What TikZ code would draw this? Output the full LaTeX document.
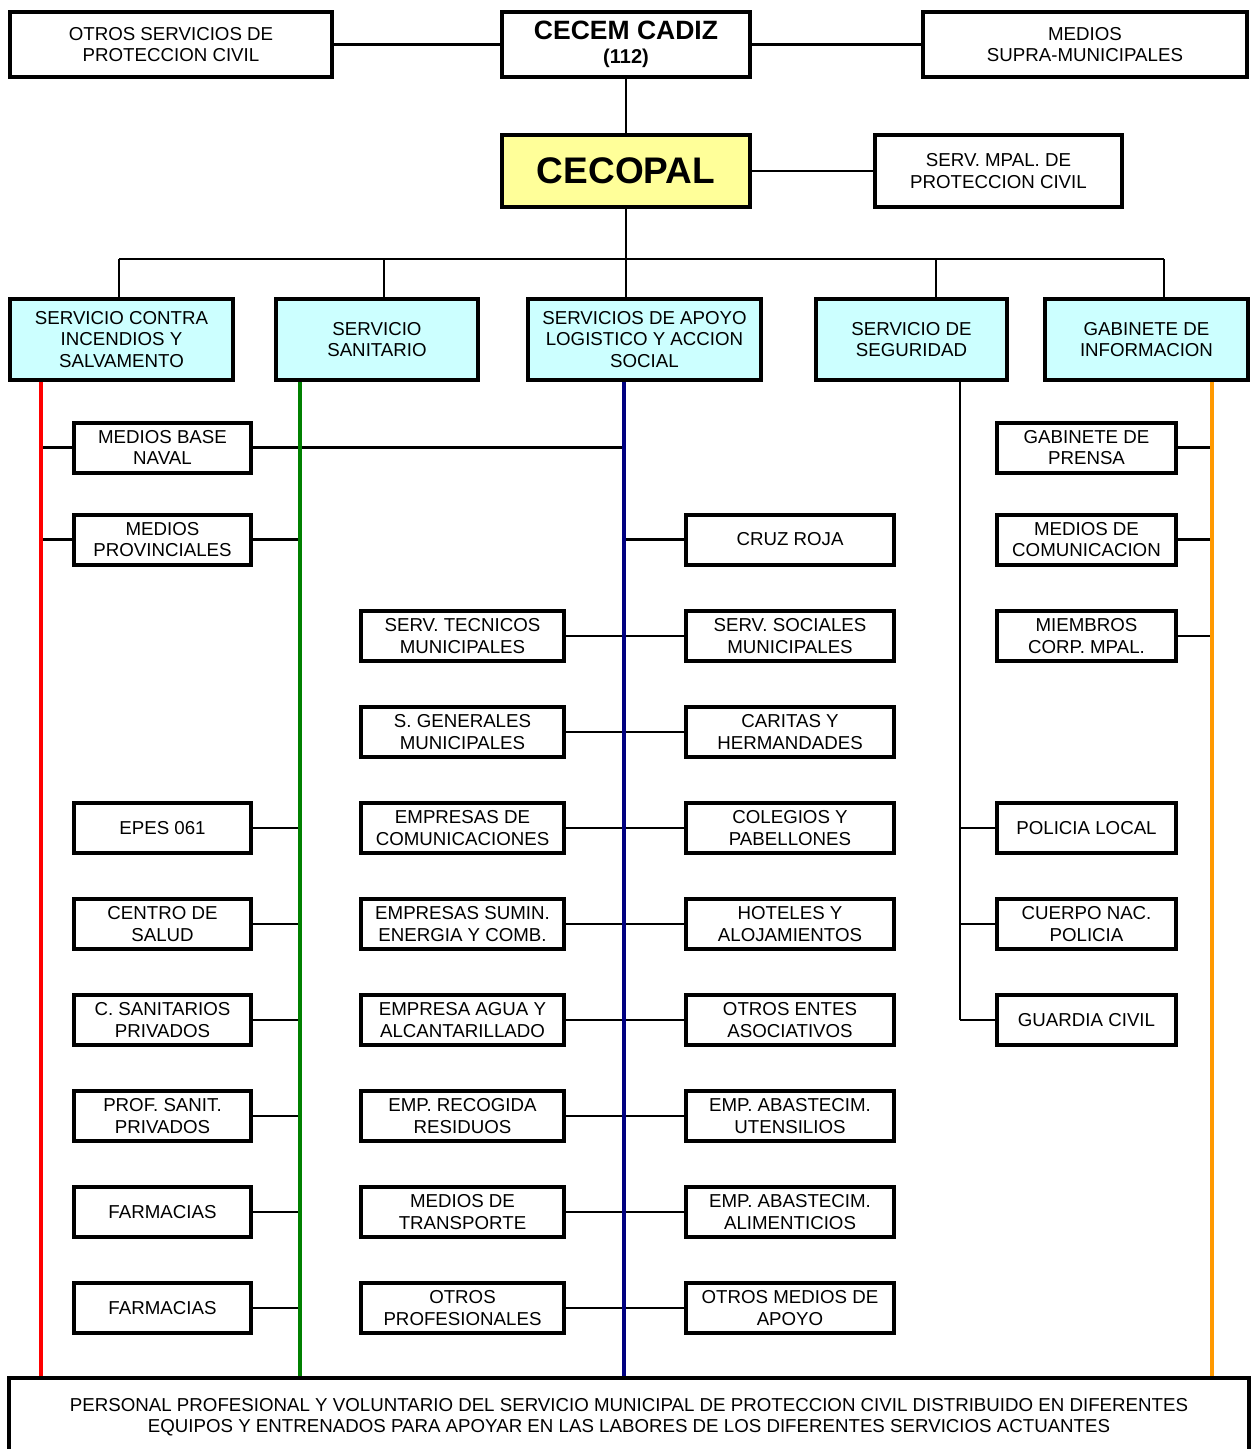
\documentclass[tikz,border=0pt]{standalone}
\usepackage{fontspec}
\setmainfont{Liberation Sans}
\definecolor{cecopalfill}{HTML}{FFFF99}
\definecolor{servfill}{HTML}{CCFFFF}
\definecolor{incred}{HTML}{FF0000}
\definecolor{sangreen}{HTML}{008000}
\definecolor{apoyoblue}{HTML}{000080}
\definecolor{gabinorange}{HTML}{FF9900}

\begin{document}
\begin{tikzpicture}[x=1pt,y=-1pt,
  box/.style={draw,line width=4pt,fill=white,align=center,inner sep=0pt,font=\fontsize{18.7}{21.5}\selectfont},
  smallbox/.style={box,minimum width=#1,minimum height=50pt},
  servbox/.style={box,fill=servfill,minimum width=#1,minimum height=81pt},
  link/.style={line width=2.5pt},
  branch/.style={line width=4pt}]
\clip (0,0) rectangle (1251,1449);
\fill[white] (0,0) rectangle (1251,1449);
\node[box,minimum width=322pt,minimum height=65pt] (otros) at (171,44.5) {OTROS SERVICIOS DE\\PROTECCION CIVIL};
\node[box,minimum width=248pt,minimum height=65pt,font=\fontsize{26.5}{24}\selectfont\bfseries] (cecem) at (626,44.5) {CECEM CADIZ\\{\fontsize{20}{24}\selectfont (112)}};
\node[box,minimum width=324pt,minimum height=65pt] (supra) at (1085,44.5) {MEDIOS\\SUPRA-MUNICIPALES};
\node[box,fill=cecopalfill,minimum width=248pt,minimum height=72pt,font=\fontsize{37}{40}\selectfont\bfseries] (cecopal) at (626,171) {CECOPAL};
\node[box,minimum width=247pt,minimum height=72pt] (mpal) at (998.5,171) {SERV. MPAL. DE\\PROTECCION CIVIL};
\node[servbox=223pt] (incendios) at (121.5,339.5) {SERVICIO CONTRA\\INCENDIOS Y\\SALVAMENTO};
\node[servbox=202pt] (sanitario) at (377,339.5) {SERVICIO\\SANITARIO};
\node[servbox=233pt] (apoyo) at (644.5,339.5) {SERVICIOS DE APOYO\\LOGISTICO Y ACCION\\SOCIAL};
\node[servbox=191pt] (seguridad) at (911.5,339.5) {SERVICIO DE\\SEGURIDAD};
\node[servbox=203pt] (gabinete) at (1146.5,339.5) {GABINETE DE\\INFORMACION};
\node[smallbox=177pt] (naval) at (162.5,447.5) {MEDIOS BASE\\NAVAL};
\node[smallbox=177pt] (provin) at (162.5,539.5) {MEDIOS\\PROVINCIALES};
\node[smallbox=177pt] (epes) at (162.5,828) {EPES 061};
\node[smallbox=177pt] (salud) at (162.5,924) {CENTRO DE\\SALUD};
\node[smallbox=177pt] (csanit) at (162.5,1020) {C. SANITARIOS\\PRIVADOS};
\node[smallbox=177pt] (profsan) at (162.5,1116) {PROF. SANIT.\\PRIVADOS};
\node[smallbox=177pt] (farma) at (162.5,1212) {FARMACIAS};
\node[smallbox=177pt] (farmb) at (162.5,1308) {FARMACIAS};
\node[smallbox=203pt] (tecnicos) at (462.5,636) {SERV. TECNICOS\\MUNICIPALES};
\node[smallbox=203pt] (generales) at (462.5,732) {S. GENERALES\\MUNICIPALES};
\node[smallbox=203pt] (comunic) at (462.5,828) {EMPRESAS DE\\COMUNICACIONES};
\node[smallbox=203pt] (energia) at (462.5,924) {EMPRESAS SUMIN.\\ENERGIA Y COMB.};
\node[smallbox=203pt] (agua) at (462.5,1020) {EMPRESA AGUA Y\\ALCANTARILLADO};
\node[smallbox=203pt] (residuos) at (462.5,1116) {EMP. RECOGIDA\\RESIDUOS};
\node[smallbox=203pt] (transporte) at (462.5,1212) {MEDIOS DE\\TRANSPORTE};
\node[smallbox=203pt] (profes) at (462.5,1308) {OTROS\\PROFESIONALES};
\node[smallbox=208pt] (cruzroja) at (790,539.5) {CRUZ ROJA};
\node[smallbox=208pt] (sociales) at (790,636) {SERV. SOCIALES\\MUNICIPALES};
\node[smallbox=208pt] (caritas) at (790,732) {CARITAS Y\\HERMANDADES};
\node[smallbox=208pt] (colegios) at (790,828) {COLEGIOS Y\\PABELLONES};
\node[smallbox=208pt] (hoteles) at (790,924) {HOTELES Y\\ALOJAMIENTOS};
\node[smallbox=208pt] (entes) at (790,1020) {OTROS ENTES\\ASOCIATIVOS};
\node[smallbox=208pt] (utensilios) at (790,1116) {EMP. ABASTECIM.\\UTENSILIOS};
\node[smallbox=208pt] (alimentos) at (790,1212) {EMP. ABASTECIM.\\ALIMENTICIOS};
\node[smallbox=208pt] (otrosmed) at (790,1308) {OTROS MEDIOS DE\\APOYO};
\node[smallbox=179pt] (prensa) at (1086.5,447.5) {GABINETE DE\\PRENSA};
\node[smallbox=179pt] (medioscom) at (1086.5,539.5) {MEDIOS DE\\COMUNICACION};
\node[smallbox=179pt] (miembros) at (1086.5,636) {MIEMBROS\\CORP. MPAL.};
\node[smallbox=179pt] (policia) at (1086.5,828) {POLICIA LOCAL};
\node[smallbox=179pt] (cuerpo) at (1086.5,924) {CUERPO NAC.\\POLICIA};
\node[smallbox=179pt] (guardia) at (1086.5,1020) {GUARDIA CIVIL};
\node[box,minimum width=1240pt,minimum height=78pt] (personal) at (629,1417) {PERSONAL PROFESIONAL Y VOLUNTARIO DEL SERVICIO MUNICIPAL DE PROTECCION CIVIL DISTRIBUIDO EN DIFERENTES\\EQUIPOS Y ENTRENADOS PARA APOYAR EN LAS LABORES DE LOS DIFERENTES SERVICIOS ACTUANTES};
\coordinate (redx) at (41,0);
\coordinate (greenx) at (300,0);
\coordinate (bluex) at (624,0);
\coordinate (segx) at (960,0);
\coordinate (orangex) at (1212,0);
\coordinate (busL) at (119,259);
\coordinate (busR) at (1164,259);
\draw[link] (otros.east) -- (cecem.west);
\draw[link] (cecem.east) -- (supra.west);
\draw[link] (cecem.south) -- (cecopal.north);
\draw[link] (cecopal.east) -- (mpal.west);
\draw[link] (cecopal.south) -- (cecopal.south |- busL);
\draw[link] (busL) -- (busR);
\foreach \x/\n in {119/incendios,384/sanitario,626/apoyo,936/seguridad,1164/gabinete}{
  \coordinate (drop\n) at (\x,259);
  \draw[link] (drop\n) -- (drop\n |- \n.north);
}
\draw[link] (redx |- naval) -- (naval.west);
\draw[link] (naval.east) -- (bluex |- naval);
\draw[link] (redx |- provin) -- (provin.west);
\foreach \n in {provin,epes,salud,csanit,profsan,farma,farmb}
  \draw[link] (\n.east) -- (greenx |- \n);
\draw[link] (bluex |- cruzroja) -- (cruzroja.west);
\foreach \a/\b in {tecnicos/sociales,generales/caritas,comunic/colegios,energia/hoteles,agua/entes,residuos/utensilios,transporte/alimentos,profes/otrosmed}
  \draw[link] (\a.east) -- (\b.west);
\foreach \n in {prensa,medioscom,miembros}
  \draw[link] (\n.east) -- (orangex |- \n);
\foreach \n in {policia,cuerpo,guardia}
  \draw[link] (segx |- \n) -- (\n.west);
\draw[link] (segx |- seguridad.south) -- (segx |- guardia);
\draw[branch,incred] (redx |- incendios.south) -- (redx |- personal.north);
\draw[branch,sangreen] (greenx |- sanitario.south) -- (greenx |- personal.north);
\draw[branch,apoyoblue] (bluex |- apoyo.south) -- (bluex |- personal.north);
\draw[branch,gabinorange] (orangex |- gabinete.south) -- (orangex |- personal.north);
\end{tikzpicture}
\end{document}
